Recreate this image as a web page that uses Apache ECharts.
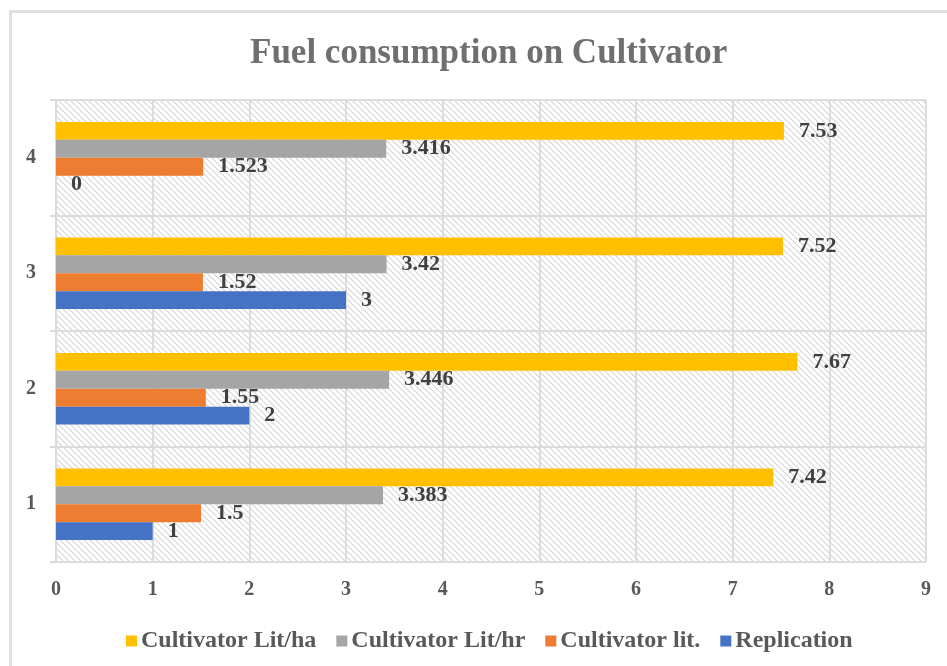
<!DOCTYPE html>
<html>
<head>
<meta charset="utf-8">
<script src="https://cdn.jsdelivr.net/npm/echarts@6/dist/echarts.min.js"></script>
<style>html,body{margin:0;padding:0;background:#fff}#c{width:947px;height:666px}</style>
</head>
<body>
<div id="c"></div>
<script>
const categories = ['1', '2', '3', '4'];
const seriesNames = ['Cultivator Lit/ha', 'Cultivator Lit/hr', 'Cultivator lit.', 'Replication'];
const litPerHa = [7.42, 7.67, 7.52, 7.53];
const litPerHr = [3.383, 3.446, 3.42, 3.416];
const lit = [1.5, 1.55, 1.52, 1.523];
const replication = [1, 2, 3, 0];
const xTicks = [0, 1, 2, 3, 4, 5, 6, 7, 8, 9];

const colors = ['#FFC000', '#A5A5A5', '#ED7D31', '#4472C4'];
const valuesList = [litPerHa, litPerHr, lit, replication];

// hatch pattern
const pc = document.createElement('canvas');
pc.width = 6; pc.height = 6;
const g = pc.getContext('2d');
g.fillStyle = '#ffffff'; g.fillRect(0, 0, 6, 6);
g.strokeStyle = '#d6d6d6'; g.lineWidth = 1.2;
g.beginPath();
g.moveTo(0, 0); g.lineTo(6, 6);
g.moveTo(-3, 3); g.lineTo(3, 9);
g.moveTo(3, -3); g.lineTo(9, 3);
g.stroke();

const font = '"Liberation Serif", "Times New Roman", serif';
const chart = echarts.init(document.getElementById('c'));
chart.setOption({
  animation: false,
  backgroundColor: '#fff',
  title: {
    text: 'Fuel consumption on Cultivator',
    left: 245, top: 31,
    textStyle: { fontFamily: font, fontWeight: 'bold', fontSize: 35, color: '#6f6f6f' }
  },
  graphic: [{
    type: 'rect', left: 8, top: 9, z: -1, silent: true,
    shape: { width: 960, height: 680 },
    style: { fill: 'none', stroke: '#e0e0e0', lineWidth: 3 }
  }],
  legend: {
    top: 624, left: 121,
    itemWidth: 11, itemHeight: 11, itemGap: 20,
    icon: 'rect',
    data: seriesNames,
    textStyle: { fontFamily: font, fontWeight: 'bold', fontSize: 24, color: '#595959', padding: [0, 0, 0, -1] }
  },
  grid: {
    left: 56, right: 21, top: 100, bottom: 104,
    show: true, borderWidth: 0,
    backgroundColor: { image: pc, repeat: 'repeat' }
  },
  xAxis: {
    type: 'value', min: 0, max: 9, interval: 1,
    axisLine: { show: false }, axisTick: { show: false },
    splitLine: { show: true, lineStyle: { color: '#dcdcdc', width: 2 } },
    axisLabel: {
      margin: 18,
      fontFamily: font, fontWeight: 'bold', fontSize: 20, color: '#595959',
      formatter: v => xTicks.includes(v) ? String(v) : ''
    }
  },
  yAxis: {
    type: 'category', data: categories,
    axisLine: { show: true, lineStyle: { color: '#d9d9d9', width: 2 } },
    axisTick: { show: true, length: 6, lineStyle: { color: '#d9d9d9', width: 2 } },
    splitLine: { show: true, lineStyle: { color: '#dcdcdc', width: 2 } },
    axisLabel: {
      margin: 20,
      fontFamily: font, fontWeight: 'bold', fontSize: 20, color: '#595959'
    }
  },
  series: seriesNames.map((name, i) => ({
    name, type: 'bar',
    data: valuesList[i],
    barGap: '0%', barCategoryGap: '38%',
    itemStyle: { color: colors[i] },
    label: {
      show: true, position: 'right', distance: 15,
      fontFamily: font, fontWeight: 'bold', fontSize: 22, color: '#404040'
    }
  }))
});
</script>
</body>
</html>
